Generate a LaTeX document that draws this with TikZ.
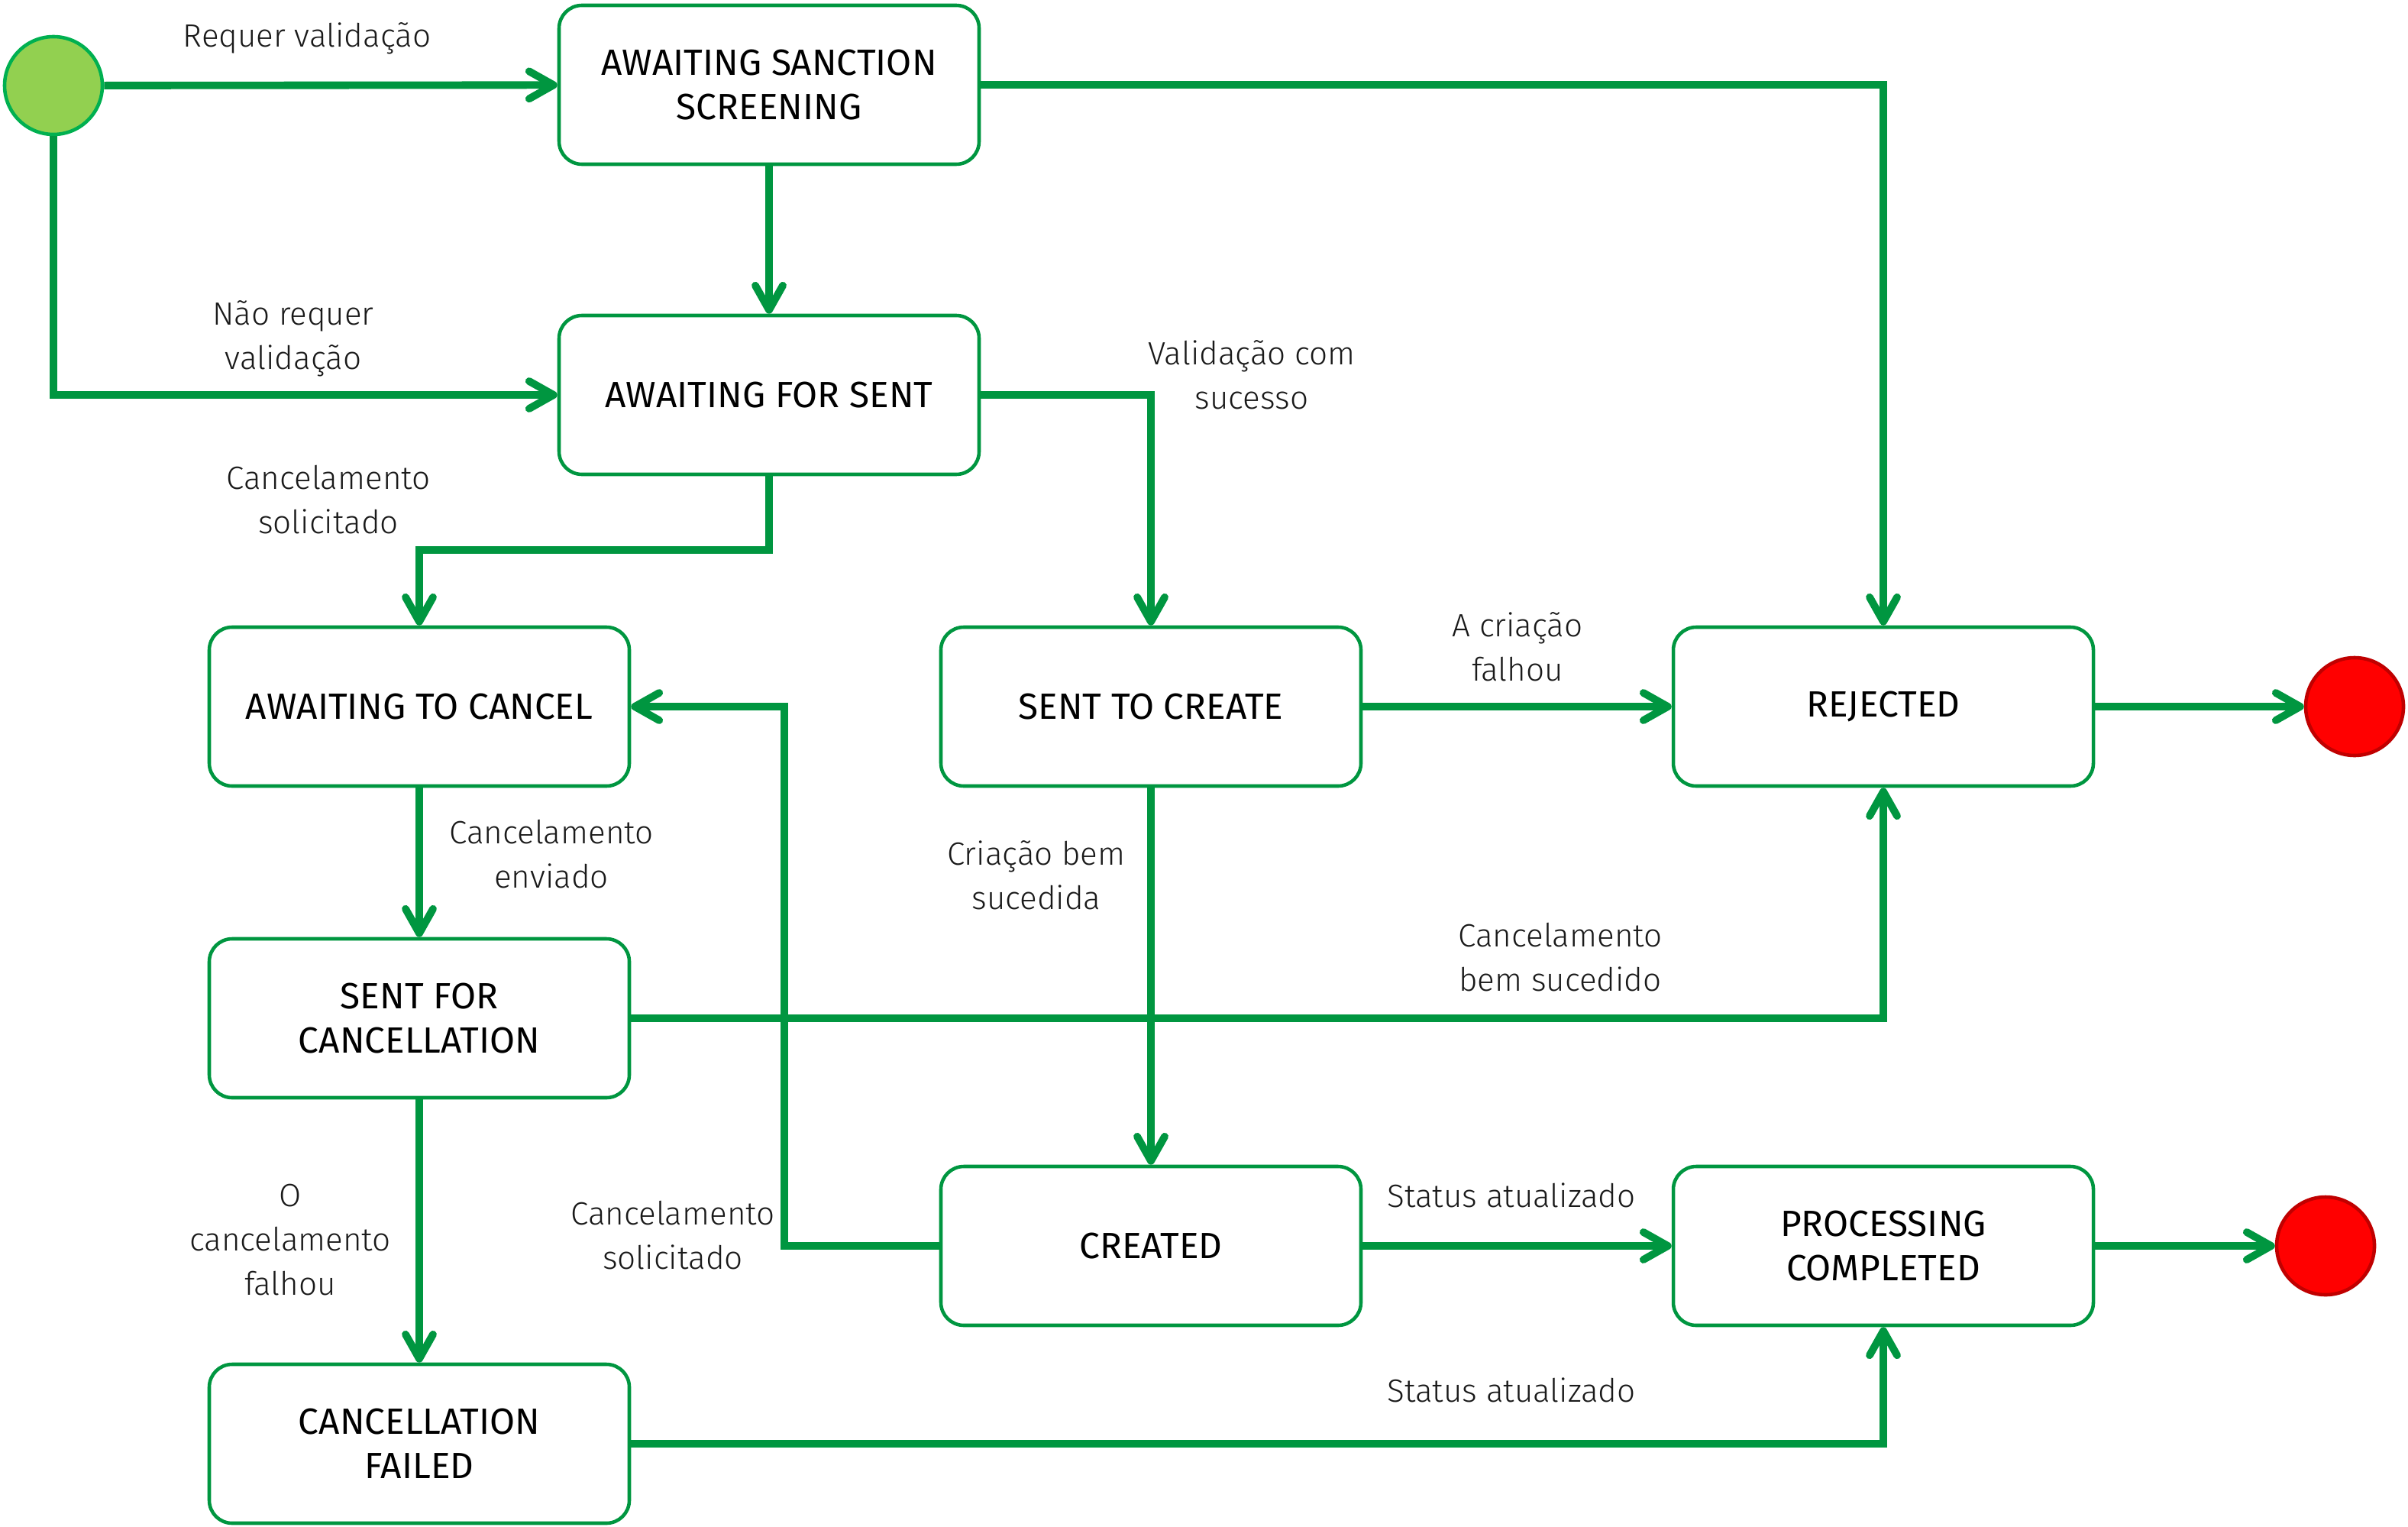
\documentclass[tikz,border=0pt]{standalone}
\usepackage{fontspec}
\setmainfont{Fira Sans}
\newfontfamily\lightfont{Fira Sans Light}
\usetikzlibrary{positioning,arrows.meta}
\definecolor{flowgreen}{HTML}{009640}
\definecolor{startfill}{HTML}{92D050}
\definecolor{startline}{HTML}{00B050}
\definecolor{endfill}{HTML}{FF0000}
\definecolor{endline}{HTML}{C00000}
\definecolor{ink}{HTML}{1A1A1A}

\begin{document}
\begin{tikzpicture}[
  font=\fontsize{12}{16.5}\selectfont,
  state/.style = {draw=flowgreen, line width=1.3pt, rounded corners=3mm,
                  fill=white, align=center, text=black,
                  font=\fontsize{13.6}{16.5}\selectfont,
                  minimum width=5.5cm, minimum height=2.08cm, inner sep=2pt},
  startdot/.style = {circle, draw=startline, fill=startfill, line width=1.3pt,
                     minimum size=1.28cm, inner sep=0pt},
  enddot/.style   = {circle, draw=endline, fill=endfill, line width=1.3pt,
                     minimum size=1.28cm, inner sep=0pt},
  lbl/.style = {align=center, text=ink, font=\lightfont\fontsize{12}{16.5}\selectfont},
  arr/.style = {-{Straight Barb[length=3.2mm,width=3.6mm,round]}, draw=flowgreen,
                line width=2.8pt},
]
\useasboundingbox (0,0) rectangle (31.53,-19.98);

% states
\node[startdot] (start) at (0.70,-1.12) {};
\node[state] (ass) at (10.07,-1.11) {AWAITING SANCTION\\SCREENING};
\node[state] (afs) at (10.07,-5.17) {AWAITING FOR SENT};
\node[state] (atc) at (5.49,-9.25)  {AWAITING TO CANCEL};
\node[state] (stc) at (15.07,-9.25) {SENT TO CREATE};
\node[state] (rej) at (24.66,-9.25) {REJECTED};
\node[state] (sfc) at (5.49,-13.33) {SENT FOR\\CANCELLATION};
\node[state] (cre) at (15.07,-16.31) {CREATED};
\node[state] (pc)  at (24.66,-16.31) {PROCESSING\\COMPLETED};
\node[state] (cf)  at (5.49,-18.90) {CANCELLATION\\FAILED};
\node[enddot] (end1) at (30.83,-9.25) {};
\node[enddot] (end2) at (30.45,-16.31) {};

% transitions
\draw[arr] (start) -- (ass);
\draw[arr] (start) |- (afs);
\draw[arr] (ass) -- (afs);
\draw[arr] (ass) -| (rej);
\draw[arr] (afs) -| (stc);
\draw[arr] (afs.south) -- ++(0,-0.97) -| (atc.north);
\draw[arr] (stc) -- (rej);
\draw[arr] (rej) -- (end1);
\draw[arr] (atc) -- (sfc);
\draw[arr] (stc) -- (cre);
\draw[arr] (sfc) -| (rej);
\draw[arr] (sfc) -- (cf);
\draw[arr] (cre.west) -- ++(-2.03,0) |- (atc.east);
\draw[arr] (cre) -- (pc);
\draw[arr] (pc) -- (end2);
\draw[arr] (cf) -| (pc);

% labels
\node[lbl] (lreq)   at (4.02,-0.50)  {Requer validação};
\node[lbl] (lnreq)  at (3.84,-4.43)  {Não requer\\validação};
\node[lbl] (lval)   at (16.39,-4.91) {Validação com\\sucesso};
\node[lbl] (lcsol)  at (4.30,-6.54)  {Cancelamento\\solicitado};
\node[lbl] (lfail)  at (19.87,-8.47) {A criação\\falhou};
\node[lbl] (lenv)   at (7.22,-11.18) {Cancelamento\\enviado};
\node[lbl] (lcok)   at (13.57,-11.46) {Criação bem\\sucedida};
\node[lbl] (lcanok) at (20.43,-12.53) {Cancelamento\\bem sucedido};
\node[lbl] (lcanf)  at (3.80,-16.23) {O\\cancelamento\\falhou};
\node[lbl] (lcsol2) at (8.81,-16.17) {Cancelamento\\solicitado};
\node[lbl] (lst1)   at (19.79,-15.65) {Status atualizado};
\node[lbl] (lst2)   at (19.79,-18.20) {Status atualizado};

\end{tikzpicture}
\end{document}
